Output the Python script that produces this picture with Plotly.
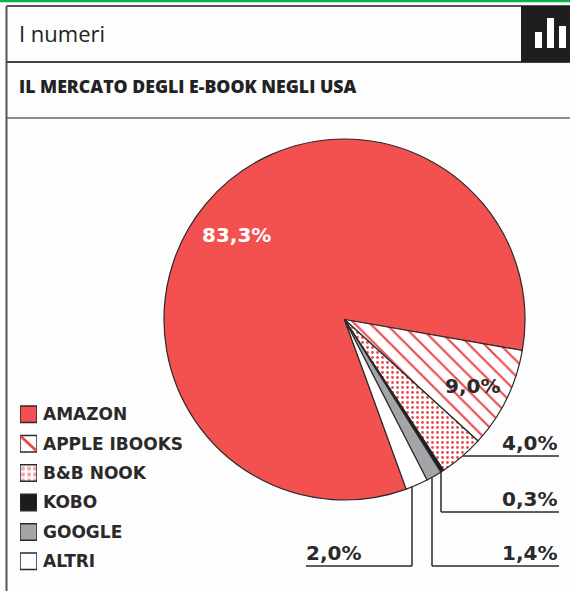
import plotly.graph_objects as go

W, H = 570, 591

categories = ["AMAZON", "APPLE IBOOKS", "B&B NOOK", "KOBO", "GOOGLE", "ALTRI"]
shares = [83.3, 9.0, 4.0, 0.3, 1.4, 2.0]
fills = ["#f25150", "#ffffff", "#ffffff", "#1c1a1b", "#a3a5a8", "#ffffff"]
pattern_shapes = ["", "\\", ".", "", "", ""]
pattern_colors = ["#f25150", "#ec4b4d", "#ec4b4d", "#1c1a1b", "#a3a5a8", "#ffffff"]

INK = "#2b2a2b"
PIE_LEFT, PIE_RIGHT, PIE_TOP, PIE_BOTTOM = 164, 525, 139, 500


def px_x(x):
    return x / W


def px_y(y):
    return 1 - y / H


def line(x0, y0, x1, y1, color=INK, width=1.5):
    return dict(type="line", xref="paper", yref="paper",
                x0=px_x(x0), y0=px_y(y0), x1=px_x(x1), y1=px_y(y1),
                line=dict(color=color, width=width), layer="above")


def block(x0, y0, x1, y1, color):
    return dict(type="rect", xref="paper", yref="paper",
                x0=px_x(x0), y0=px_y(y0), x1=px_x(x1), y1=px_y(y1),
                fillcolor=color, line=dict(width=0), layer="above")


def pct(value):
    return f"{value:.1f}".replace(".", ",") + "%"


fig = go.Figure()

# Pie slices, clockwise from the start of the Amazon wedge
fig.add_trace(go.Pie(
    labels=categories, values=shares, sort=False, direction="clockwise",
    rotation=160, textinfo="none", hoverinfo="label+value", showlegend=False,
    domain=dict(x=[px_x(PIE_LEFT), px_x(PIE_RIGHT)],
                y=[px_y(PIE_BOTTOM), px_y(PIE_TOP)]),
    marker=dict(colors=fills, line=dict(color=INK, width=1.2),
                pattern=dict(shape=pattern_shapes, fgcolor=pattern_colors,
                             bgcolor=fills, size=[10, 11, 5, 10, 10, 10],
                             solidity=[0.2, 0.2, 0.24, 0.2, 0.2, 0.2])),
))

# Key: one full-width bar per category on a small hidden axis pair
for name, fill, shape, fg in zip(categories, fills, pattern_shapes, pattern_colors):
    fig.add_trace(go.Bar(
        x=[1], y=[name], orientation="h", showlegend=False, hoverinfo="skip",
        marker=dict(color=fill, line=dict(color=INK, width=1.5),
                    pattern=dict(shape="." if shape == "." else "", fgcolor=fg,
                                 bgcolor=fill, size=6, solidity=0.4)),
    ))

shapes = [
    # Page frame and header
    line(0, 1, W, 1, "#10b04a", 2.5),
    line(6.5, 6, W, 6, "#555555", 2),
    line(6.5, 6, 6.5, H, "#555555", 2),
    line(6.5, 62, W, 62, "#444444", 2),
    line(6.5, 118, W, 118, "#666666", 1.5),
    block(521, 6, W, 62, "#1f1d1e"),
    block(535, 32, 542, 48, "#ffffff"),
    block(547, 18, 554, 48, "#ffffff"),
    block(559, 26, 566, 48, "#ffffff"),
    # Diagonal stripe of the hatched key swatch
    line(21, 436.5, 36, 450.5, "#ec4b4d", 3),
    # Leader lines for the small slices
    line(463, 456, 559, 456),
    line(441, 472, 441, 512),
    line(441, 512, 559, 512),
    line(432, 478, 432, 566),
    line(432, 566, 559, 566),
    line(412, 487, 412, 566),
    line(412, 566, 306, 566),
]


def text(x, y, s, size, color=INK, family="DejaVu Sans", weight="bold", anchor="right"):
    return dict(xref="paper", yref="paper", x=px_x(x), y=px_y(y), text=s,
                showarrow=False, xanchor=anchor, yanchor="middle",
                font=dict(family=family, size=size, color=color, weight=weight))


annotations = [
    text(17, 33, "I numeri", 22, "#222222", "Open Sans", 500, "left"),
    text(17, 86, "IL MERCATO DEGLI E-BOOK NEGLI USA", 17.7, "#222222", "Open Sans", 800, "left"),
    text(273, 235, pct(shares[0]), 20, "#ffffff"),
    text(502, 386, pct(shares[1]), 20),
    text(559, 443, pct(shares[2]), 20),
    text(559, 499, pct(shares[3]), 20),
    text(559, 553, pct(shares[4]), 20),
    text(363, 553, pct(shares[5]), 20),
]

fig.update_layout(
    width=W, height=H, margin=dict(l=0, r=0, t=0, b=0),
    autosize=False, paper_bgcolor="#fdfdfd", plot_bgcolor="rgba(0,0,0,0)",
    barmode="overlay", bargap=0.44, showlegend=False,
    shapes=shapes, annotations=annotations,
    xaxis=dict(domain=[px_x(20), px_x(37)], range=[0, 1], visible=False,
               fixedrange=True),
    yaxis=dict(domain=[px_y(576), px_y(399.6)], side="right",
               categoryorder="array", categoryarray=categories,
               autorange="reversed", showgrid=False, zeroline=False,
               showline=False, ticks="", ticklen=0, ticklabelstandoff=5,
               tickfont=dict(family="DejaVu Sans", size=17, color=INK,
                             weight="bold"),
               fixedrange=True),
)

fig.write_html("out.html", config=dict(displayModeBar=False))
